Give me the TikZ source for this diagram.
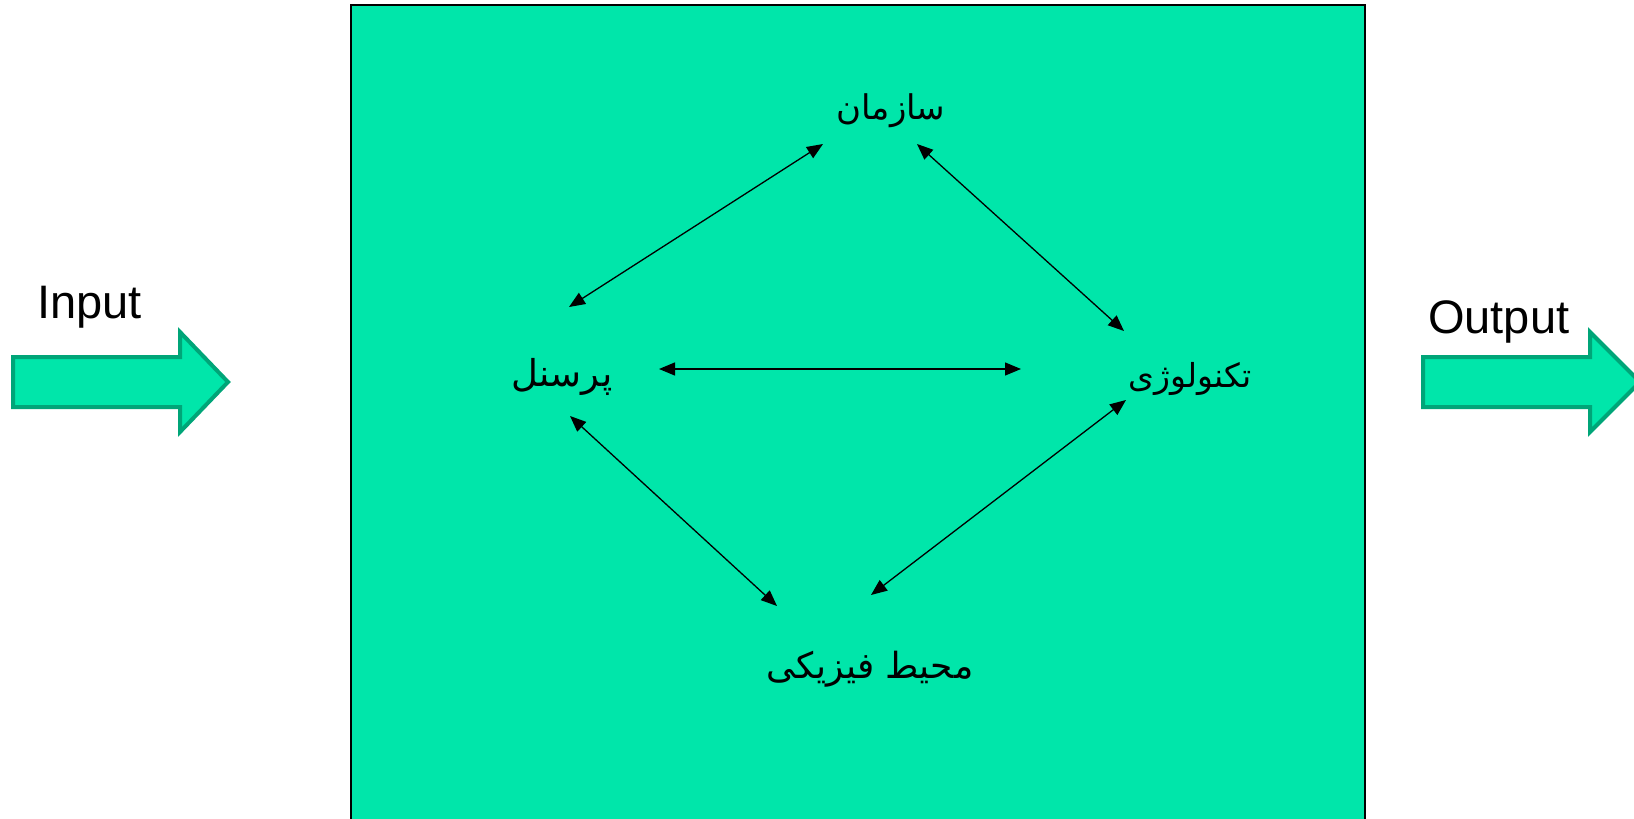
\documentclass[tikz,border=0pt]{standalone}
\usepackage{fontspec}
\setmainfont{Liberation Sans}
\newfontfamily\arabicfont[Script=Arabic]{DejaVu Sans}
\TeXXeTstate=1
\usetikzlibrary{arrows.meta}
\definecolor{boxfill}{RGB}{0,230,170}
\definecolor{arrowedge}{RGB}{0,165,120}
\tikzset{
  fa/.style={font=\arabicfont\fontsize{#1}{#1}\selectfont, inner sep=0pt, text=black},
  fa/.default=34,
  lat/.style={font=\fontsize{47}{56}\selectfont, inner sep=0pt, anchor=base west},
  link/.style={{Triangle[length=16pt,width=13pt]}-{Triangle[length=16pt,width=13pt]}, line width=1.3pt},
  bigarrow/.style={fill=boxfill, draw=arrowedge, line width=4pt, line join=miter},
}
\begin{document}
\begin{tikzpicture}[x=1pt,y=-1pt]
\useasboundingbox (0,0) rectangle (1634,819);
\clip (0,0) rectangle (1634,819);
% main box
\filldraw[fill=boxfill, draw=black, line width=1.5pt] (351,5) rectangle (1365,840);
% input / output arrows
\draw[bigarrow] (13,357) -- (180,357) -- (180,332) -- (228,382) -- (180,432) -- (180,407) -- (13,407) -- cycle;
\draw[bigarrow] (1423,357) -- (1590,357) -- (1590,332) -- (1640,382) -- (1590,432) -- (1590,407) -- (1423,407) -- cycle;
\node[lat] (in) at (37,318) {Input};
\node[lat] (out) at (1428,333) {Output};
% labels
\node[fa=34] (org) at (891,111) {\beginR سازمان\endR};
\node[fa=37] (per) at (562,377) {\beginR پرسنل\endR};
\node[fa=33] (tec) at (1190,379) {\beginR تکنولوژی\endR};
\node[fa=36] (env) at (870,669) {\beginR محیط فیزیکی\endR};
% connector end points
\coordinate (a1) at (569,307); \coordinate (a2) at (823,144);
\coordinate (b1) at (917,144); \coordinate (b2) at (1124,331);
\coordinate (c1) at (659,369); \coordinate (c2) at (1021,369);
\coordinate (d1) at (570,416); \coordinate (d2) at (777,606);
\coordinate (e1) at (1126,400); \coordinate (e2) at (871,595);
\draw[link] (a1) -- (a2);
\draw[link] (b1) -- (b2);
\draw[link] (c1) -- (c2);
\draw[link] (d1) -- (d2);
\draw[link] (e1) -- (e2);
\end{tikzpicture}
\end{document}
